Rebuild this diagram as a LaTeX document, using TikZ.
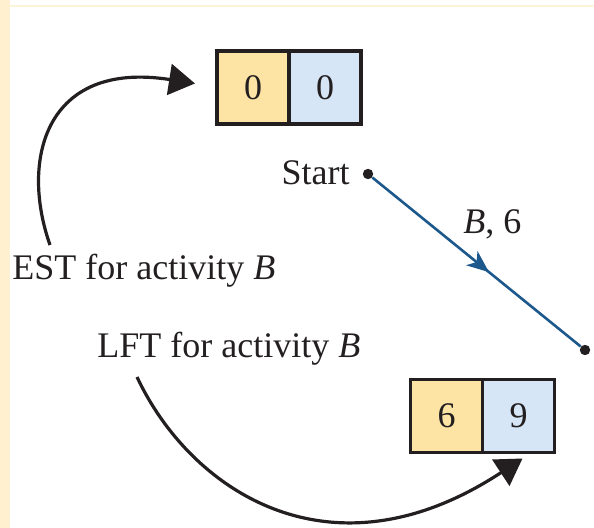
\documentclass[tikz,border=0pt]{standalone}
\usepackage{fontspec}
\setmainfont{Liberation Serif}
\usetikzlibrary{arrows.meta,positioning,decorations.markings}
\definecolor{ink}{RGB}{35,31,32}
\definecolor{flow}{RGB}{28,88,140}
\definecolor{estfill}{RGB}{253,228,165}
\definecolor{lftfill}{RGB}{214,230,246}
\definecolor{margin}{RGB}{255,241,207}
\definecolor{rulecol}{RGB}{252,244,214}
\tikzset{
  timebox/.style={draw=ink,line width=1.6pt,minimum width=36pt,minimum height=36.5pt,
    inner sep=0pt,outer sep=0pt,font=\fontsize{18}{20}\selectfont,text=ink},
  estbox/.style={timebox,fill=estfill},
  lftbox/.style={timebox,fill=lftfill},
  event/.style={circle,fill=ink,inner sep=0pt,minimum size=5.2pt},
  activity/.style={line width=1.3pt,flow,postaction={decorate},
    decoration={markings,mark=at position 0.56 with {\arrow{Stealth[length=11pt,width=9pt,inset=3pt]}}}},
  pointer/.style={line width=1.6pt,ink,-{Triangle[length=13pt,width=15.5pt]}},
  txt/.style={font=\fontsize{18}{20}\selectfont,text=ink,inner sep=0pt}
}
\begin{document}
\begin{tikzpicture}[x=0.5pt,y=-0.5pt]
  \useasboundingbox (0,0) rectangle (594,528);
  \fill[margin] (0,0) rectangle (10,528);
  \draw[rulecol,line width=0.6pt] (10,6) -- (594,6);
  % early start / late finish boxes
  \node[estbox] (es) at (253,87.5) {0};
  \node[lftbox,right=0pt of es] (ls) {0};
  \node[estbox] (ef) at (446.5,416) {6};
  \node[lftbox,right=0pt of ef] (lf) {9};
  % events and activity
  \node[event] (start) at (368,174) {};
  \node[event] (finish) at (585,350) {};
  \node[txt,anchor=base east] (startlbl) at (350,185) {Start};
  \draw[activity] (start) -- (finish);
  \node[txt,anchor=base west] (actlbl) at (463,234) {\textit{B}, 6};
  % labels and pointers
  \node[txt,anchor=base west] (est) at (12,280) {EST for activity \textit{B}};
  \node[txt,anchor=base west] (lft) at (97,358) {LFT for activity \textit{B}};
  \coordinate (estfoot) at (50,245);
  \coordinate (lfthead) at (137,377);
  \draw[pointer] (estfoot) .. controls (20,160) and (45,60) .. ([xshift=-11pt,yshift=2pt]es.west);
  \draw[pointer] (lfthead) .. controls (190,490) and (330,585) .. ([xshift=2pt,yshift=-3pt]lf.south);
\end{tikzpicture}
\end{document}
